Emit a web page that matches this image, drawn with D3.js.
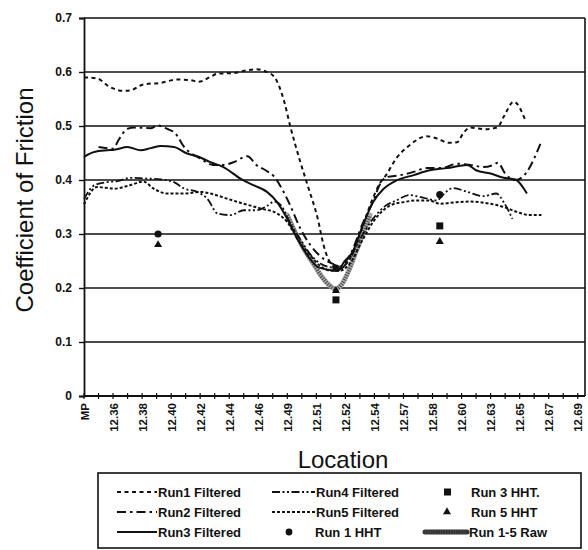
<!DOCTYPE html>
<html>
<head>
<meta charset="utf-8">
<script src="https://cdn.jsdelivr.net/npm/d3@7"></script>
<style>
  body { margin: 0; background: #fff; }
  svg { font-family: Arial, "Liberation Sans", sans-serif; }
</style>
</head>
<body>
<script>
(function(){

//location labels, one on every other category
var locations = ["MP", "12.36", "12.38", "12.40", "12.42", "12.44", "12.46", "12.49", "12.51",
    "12.52", "12.54", "12.57", "12.58", "12.60", "12.63", "12.65", "12.67", "12.69"];
var yTicks = [0, 0.1, 0.2, 0.3, 0.4, 0.5, 0.6, 0.7];

//series as [category position, coefficient]
var run1 = [[0,.590],[0.9,.588],[1.8,.572],[2.7,.565],[3.2,.566],[4.1,.577],[5.3,.580],[6.4,.586],
    [7.3,.585],[7.9,.582],[8.7,.591],[9.2,.597],[10.3,.598],[11.2,.603],[11.9,.605],[12.5,.601],
    [13.1,.591],[13.8,.544],[14.2,.50],[14.9,.433],[15.4,.39],[16.1,.328],[16.5,.279],[17.0,.245],
    [17.5,.235],[18.2,.25],[19.0,.30],[19.8,.36],[20.4,.395],[20.8,.409],[21.5,.44],[22.4,.464],
    [23.6,.481],[24.3,.477],[25.1,.469],[25.7,.47],[26.1,.486],[26.6,.497],[27.7,.494],[28.5,.498],
    [28.9,.517],[29.6,.545],[30.4,.51]];
var run2 = [[1,.461],[2,.458],[2.4,.475],[3,.495],[3.5,.497],[4.6,.496],[5.05,.501],[5.7,.495],
    [6.3,.486],[6.9,.461],[8.0,.44],[8.9,.428],[9.6,.428],[10.3,.433],[11.25,.444],[11.9,.427],
    [12.5,.418],[13.1,.406],[13.5,.39],[14.2,.353],[14.9,.31],[15.6,.279],[16.5,.254],[17.1,.245],
    [17.6,.24],[18.3,.26],[19.2,.32],[19.9,.36],[20.4,.393],[20.8,.405],[21.8,.409],[22.7,.415],
    [23.6,.422],[24.6,.422],[25.7,.43],[26.6,.428],[27.5,.424],[28.2,.428],[28.5,.432],[29.0,.412],
    [29.7,.400],[30.5,.415],[31.0,.440],[31.5,.472]];
var run3 = [[0,.443],[0.7,.452],[1.6,.455],[2.1,.456],[3.0,.461],[3.9,.455],[4.6,.459],[5.3,.463],
    [6.2,.461],[7.1,.449],[7.9,.443],[8.7,.433],[9.6,.424],[10.8,.402],[11.7,.39],[12.6,.378],
    [13.3,.359],[14.0,.328],[14.7,.291],[15.4,.26],[16.1,.239],[17.0,.233],[17.5,.232],[17.9,.248],
    [18.5,.267],[19.2,.316],[19.9,.359],[20.6,.383],[21.5,.399],[22.7,.409],[23.8,.418],[25.0,.422],
    [26.4,.428],[27.0,.418],[28.0,.412],[28.9,.404],[29.7,.401],[30.5,.375]];
var run4 = [[0,.365],[0.7,.39],[1.6,.396],[2.3,.398],[3.2,.404],[4.1,.403],[5.3,.401],[6.2,.396],
    [6.9,.384],[7.8,.378],[8.5,.365],[9.2,.338],[10.1,.335],[11.0,.344],[11.9,.344],[12.6,.352],
    [13.1,.36],[13.6,.352],[14.2,.32],[14.9,.29],[15.6,.262],[16.3,.245],[17.0,.238],[17.6,.235],
    [18.2,.25],[19.0,.29],[19.9,.328],[20.8,.353],[21.5,.362],[22.4,.372],[23.4,.367],[24.3,.362],
    [24.7,.372],[25.4,.385],[26.4,.378],[27.5,.37],[28.4,.375],[28.9,.359],[29.5,.328]];
var run5 = [[0,.355],[0.9,.387],[2.1,.384],[3.0,.389],[4.1,.397],[4.8,.384],[5.7,.375],[6.9,.375],
    [8.0,.378],[8.7,.375],[9.9,.365],[11.0,.356],[12.2,.347],[13.3,.338],[14.0,.322],[14.7,.291],
    [15.6,.26],[16.3,.24],[17.0,.232],[17.6,.232],[18.3,.245],[19.2,.29],[19.9,.322],[21.1,.353],
    [22.0,.359],[22.9,.362],[23.8,.362],[24.5,.356],[25.7,.359],[26.6,.36],[27.5,.358],[28.9,.35],
    [29.8,.341],[30.7,.335],[31.5,.335]];
var runRaw = [[14.0,.335],[14.6,.30],[15.2,.27],[15.8,.245],[16.4,.22],[16.9,.205],[17.3,.198],
    [17.7,.205],[18.2,.23],[18.7,.265],[19.2,.30],[19.7,.335]];

//HHT point values
var hht1 = [[5.1,.300],[17.35,.237],[24.5,.373]];
var hht3 = [[17.35,.178],[24.5,.315]];
var hht5 = [[5.1,.280],[17.35,.195],[24.5,.286]];

var width = 588, height = 550;
var x0 = 84, x1 = 585;

var svg = d3.select("body").append("svg")
    .attr("width", width)
    .attr("height", height);

var x = d3.scaleLinear().domain([0, 34.5]).range([x0, x1]);
var y = d3.scaleLinear().domain([0, 0.7]).range([396, 18]);

//gridlines
svg.selectAll(".grid")
    .data(yTicks.filter(function(d){ return d > 0; }))
    .enter().append("line")
    .attr("x1", x0).attr("x2", x1)
    .attr("y1", function(d){ return y(d); })
    .attr("y2", function(d){ return y(d); })
    .attr("stroke", "#111").attr("stroke-width", 1.6);

//right border
svg.append("line")
    .attr("x1", x1).attr("x2", x1)
    .attr("y1", y(0.7)).attr("y2", y(0))
    .attr("stroke", "#111").attr("stroke-width", 1.6);

//y axis
var yAxis = svg.append("g")
    .attr("transform", "translate(" + x0 + ",0)")
    .call(d3.axisLeft(y).tickValues(yTicks).tickSize(5).tickPadding(7)
        .tickFormat(function(d){ return d === 0 ? "0" : d3.format(".1f")(d); }));
yAxis.select(".domain").attr("stroke", "#111").attr("stroke-width", 1.8);
yAxis.selectAll(".tick line").attr("stroke", "#111").attr("stroke-width", 1.4);
yAxis.selectAll("text").attr("font-size", 12).attr("font-weight", "bold")
    .attr("font-family", "Arial, 'Liberation Sans', sans-serif").attr("fill", "#111");

//x axis line with crossing ticks
svg.append("line")
    .attr("x1", x0).attr("x2", x1)
    .attr("y1", y(0)).attr("y2", y(0))
    .attr("stroke", "#111").attr("stroke-width", 1.8);
svg.selectAll(".xtick")
    .data(d3.range(0, 35))
    .enter().append("line")
    .attr("x1", function(d){ return x(d); })
    .attr("x2", function(d){ return x(d); })
    .attr("y1", y(0) - 3).attr("y2", y(0) + 3)
    .attr("stroke", "#111").attr("stroke-width", 1.2);
svg.selectAll(".xlabel")
    .data(locations)
    .enter().append("text")
    .attr("transform", function(d, i){ return "translate(" + (x(i * 2) + 4.5) + "," + (y(0) + 7) + ") rotate(-90)"; })
    .attr("text-anchor", "end")
    .attr("font-size", 11.5).attr("font-weight", "bold").attr("fill", "#111")
    .text(function(d){ return d; });

//axis titles
svg.append("text")
    .attr("transform", "translate(33,200) rotate(-90)")
    .attr("text-anchor", "middle")
    .attr("font-size", 24).attr("fill", "#111")
    .text("Coefficient of Friction");
svg.append("text")
    .attr("x", 343).attr("y", 468)
    .attr("text-anchor", "middle")
    .attr("font-size", 24).attr("fill", "#111")
    .text("Location");

//series styles
var line = d3.line()
    .x(function(d){ return x(d[0]); })
    .y(function(d){ return y(d[1]); })
    .curve(d3.curveMonotoneX);

var series = [
    {name: "Run1 Filtered", data: run1, dash: "4,3.5", width: 2},
    {name: "Run2 Filtered", data: run2, dash: "9,4,2.5,4", width: 2},
    {name: "Run3 Filtered", data: run3, dash: null, width: 2},
    {name: "Run4 Filtered", data: run4, dash: "8,2.5,2,2.5,2,2.5", width: 1.8},
    {name: "Run5 Filtered", data: run5, dash: "3,2", width: 2}
];

//raw band first, so the filtered runs sit on top
function drawRaw(g, path, light){
    g.append("path").attr("d", path).attr("fill", "none")
        .attr("stroke", light).attr("stroke-width", 5).attr("stroke-linecap", "round");
    g.append("path").attr("d", path).attr("fill", "none")
        .attr("stroke", "#444").attr("stroke-width", 4).attr("stroke-dasharray", "1,1.5");
}
drawRaw(svg.append("g"), line(runRaw), "#aaa");

series.forEach(function(s){
    svg.append("path")
        .attr("d", line(s.data))
        .attr("fill", "none")
        .attr("stroke", "#111")
        .attr("stroke-width", s.width)
        .attr("stroke-dasharray", s.dash);
});

//HHT markers
svg.selectAll(".hht1").data(hht1).enter().append("circle")
    .attr("cx", function(d){ return x(d[0]); })
    .attr("cy", function(d){ return y(d[1]); })
    .attr("r", 3.6).attr("fill", "#111");
svg.selectAll(".hht3").data(hht3).enter().append("rect")
    .attr("x", function(d){ return x(d[0]) - 3.5; })
    .attr("y", function(d){ return y(d[1]) - 3.5; })
    .attr("width", 7).attr("height", 7).attr("fill", "#111");
var tri = d3.symbol().type(d3.symbolTriangle).size(28);
svg.selectAll(".hht5").data(hht5).enter().append("path")
    .attr("transform", function(d){ return "translate(" + x(d[0]) + "," + y(d[1]) + ")"; })
    .attr("d", tri).attr("fill", "#111");

//legend
var legend = svg.append("g");
legend.append("rect")
    .attr("x", 98).attr("y", 473).attr("width", 483).attr("height", 75)
    .attr("fill", "#fff").attr("stroke", "#111").attr("stroke-width", 1.6);

var rowY = [492, 512, 532];
function legendText(tx, ty, label){
    legend.append("text")
        .attr("x", tx).attr("y", ty + 4.5)
        .attr("font-size", 13).attr("font-weight", "bold").attr("fill", "#111")
        .text(label);
}
function legendLine(lx0, lx1, ly, s){
    legend.append("line")
        .attr("x1", lx0).attr("x2", lx1).attr("y1", ly).attr("y2", ly)
        .attr("stroke", "#111").attr("stroke-width", s.width)
        .attr("stroke-dasharray", s.dash);
}
//column 1
[0, 1, 2].forEach(function(i){
    legendLine(117, 157, rowY[i], series[i]);
    legendText(158, rowY[i], series[i].name);
});
//column 2
[3, 4].forEach(function(i, r){
    legendLine(272, 315, rowY[r], series[i]);
    legendText(316, rowY[r], series[i].name);
});
legend.append("circle").attr("cx", 289).attr("cy", rowY[2]).attr("r", 3.4).attr("fill", "#111");
legendText(315, rowY[2], "Run 1 HHT");
//column 3
legend.append("rect").attr("x", 444).attr("y", rowY[0] - 3.5).attr("width", 7).attr("height", 7).attr("fill", "#111");
legendText(471, rowY[0], "Run 3 HHT.");
legend.append("path").attr("transform", "translate(447," + rowY[1] + ")").attr("d", tri).attr("fill", "#111");
legendText(471, rowY[1], "Run 5 HHT");
drawRaw(legend, "M425," + rowY[2] + "L467," + rowY[2], "#333");
legendText(469, rowY[2], "Run 1-5 Raw");

})();
</script>
</body>
</html>
